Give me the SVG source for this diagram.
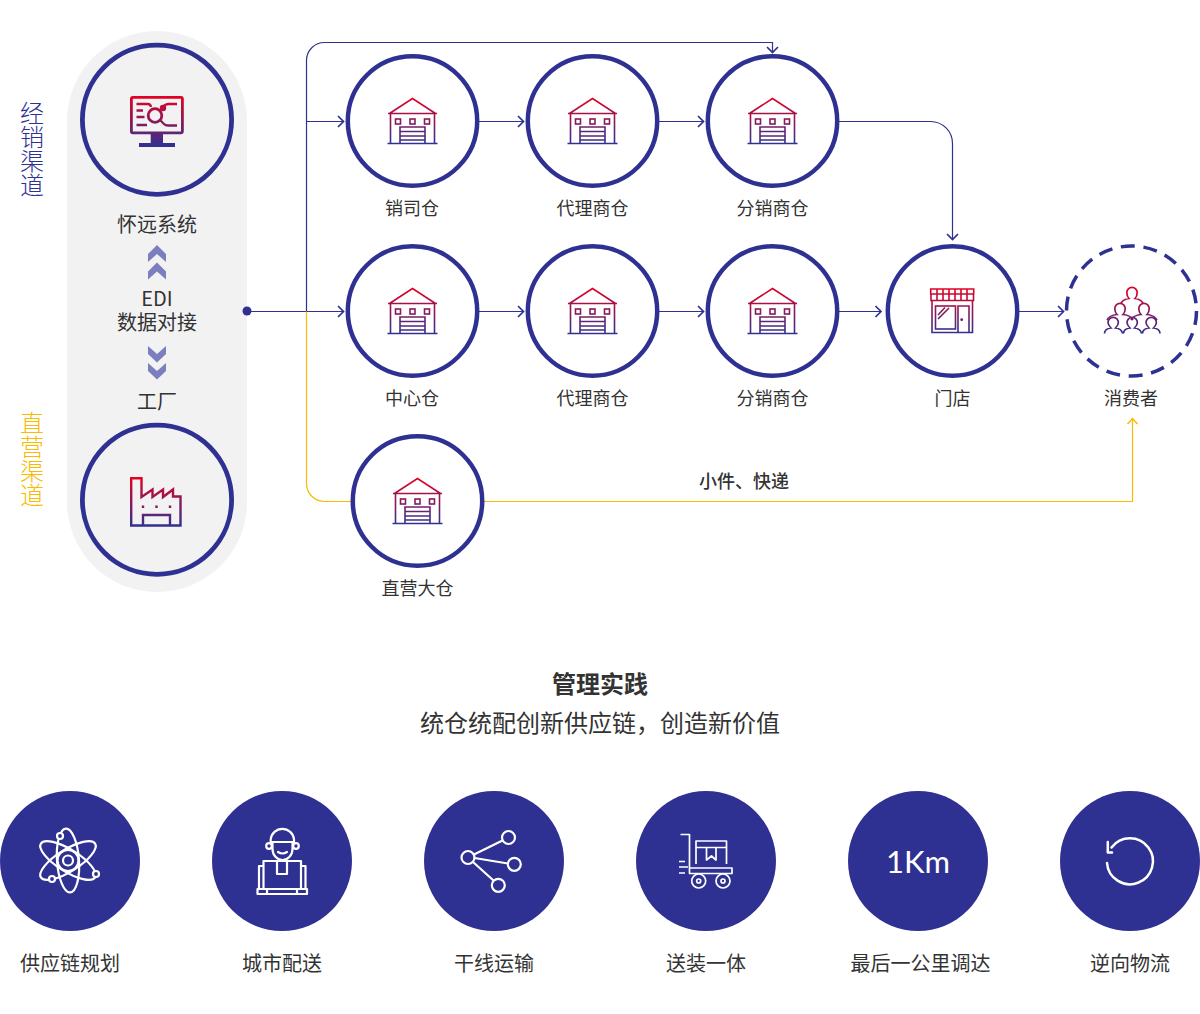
<svg xmlns="http://www.w3.org/2000/svg" xmlns:xlink="http://www.w3.org/1999/xlink" width="1200" height="1014" viewBox="0 0 1200 1014">
<style>
text{font-family:"Noto Sans CJK SC","Noto Sans",sans-serif;fill:#333;text-anchor:middle}
.lbl{font-size:18px}
.lbl2{font-size:20px}
.ring{fill:#fff;stroke:#2e3192;stroke-width:4.500}
.ringL{fill:none;stroke:#2e3192;stroke-width:4.800}
.dot{fill:#2e3192}
.ln{fill:none;stroke:#2e3192;stroke-width:1.200}
.yl{fill:none;stroke:#fbb900;stroke-width:1.200}
.head{fill:none;stroke:#2e3192;stroke-width:1.700}
.headY{fill:none;stroke:#fbb900;stroke-width:1.500}
.w{fill:none;stroke:#fff;stroke-width:2.200;stroke-linecap:round;stroke-linejoin:round}
.chev{fill:#7b7fbd}
.side{font-size:24px;font-weight:300;writing-mode:vertical-rl;text-anchor:start}
</style>
<defs>
<linearGradient id="gW" gradientUnits="userSpaceOnUse" x1="0" y1="-23" x2="0" y2="23"><stop offset="0" stop-color="#e60022"/><stop offset="1" stop-color="#2e3192"/></linearGradient>
<linearGradient id="gM" gradientUnits="userSpaceOnUse" x1="0" y1="96" x2="0" y2="147"><stop offset="0" stop-color="#e60022"/><stop offset="1" stop-color="#2e3192"/></linearGradient>
<linearGradient id="gF" gradientUnits="userSpaceOnUse" x1="0" y1="477" x2="0" y2="527"><stop offset="0" stop-color="#e60022"/><stop offset="1" stop-color="#2e3192"/></linearGradient>
<linearGradient id="gS" gradientUnits="userSpaceOnUse" x1="0" y1="288" x2="0" y2="334"><stop offset="0" stop-color="#e60022"/><stop offset="1" stop-color="#2e3192"/></linearGradient>
<linearGradient id="gP" gradientUnits="userSpaceOnUse" x1="0" y1="286" x2="0" y2="334"><stop offset="0" stop-color="#e60022"/><stop offset="1" stop-color="#2e3192"/></linearGradient>
<g id="house" fill="none" stroke="url(#gW)" stroke-width="1.600">
<path d="M-24.500 -7.500H24.500M-23 -7.500L0 -22.500L23 -7.500"/>
<path d="M-22 -7.500V22M22 -7.500V22M-25 22.500H25"/>
<path d="M-12.500 22V6H12.500V22M-12.500 10.500H12.500M-12.500 15H12.500M-12.500 19H12.500"/>
<rect x="-17" y="-2" width="5" height="5"/><rect x="-2.500" y="-2" width="5" height="5"/><rect x="12" y="-2" width="5" height="5"/>
</g>
</defs>
<rect width="1200" height="1014" fill="#fff"/>
<rect x="67" y="31" width="180" height="561" rx="90" fill="#f2f2f3"/>
<g id="side-labels">
<text class="side" x="32" y="101" style="fill:#2e3192">经销渠道</text>
<text class="side" x="32" y="411" style="fill:#fbb900">直营渠道</text>
</g>
<g id="connectors">
<circle class="dot" cx="247" cy="311" r="4.500"/>
<path class="ln" d="M247 311.500H343M306.500 311.500V60.500A18 18 0 0 1 324.500 42.500H772.500V52"/>
<path class="ln" d="M306.500 121.500H343M479 121.500H523M659 121.500H703M839 121.500H930.500A22 22 0 0 1 952.500 143.500V239M479 311.500H523M659 311.500H703M839 311.500H881M1019 311.500H1063"/>
<path class="yl" d="M306.500 311.500V483.500A18 18 0 0 0 324.500 501.500H352M484 501.500H1132.500V419"/>
<g class="head">
<path d="M338 116L343.500 121.500L338 127M518 116L523.500 121.500L518 127M698 116L703.500 121.500L698 127"/>
<path d="M338 306L343.500 311.500L338 317M518 306L523.500 311.500L518 317M698 306L703.500 311.500L698 317M875.500 306L881 311.500L875.500 317M1058 306L1063.500 311.500L1058 317"/>
<path d="M767 47L772.500 52.500L778 47M947 234L952.500 239.500L958 234"/>
</g>
<path class="headY" d="M1127.500 424L1132.500 418.500L1137.500 424"/>
</g>
<g id="node-system">
<circle class="ringL" cx="157" cy="119.700" r="74.600"/>
<g stroke="url(#gM)" fill="none" stroke-width="2.800">
<rect x="131.400" y="97.400" width="51" height="35.400" rx="1.500"/>
<path d="M136.500 104H148Q150.500 104 151 107M177 104H169Q165 104 163 107M136.500 110.500H143M136.500 117H144.500M136.500 125H147M160 120L164 124Q165.500 125.500 168 125.500H177" stroke-width="2.300"/>
<circle cx="155" cy="115.500" r="6.800" stroke-width="2.800"/>
</g>
<circle cx="163" cy="108" r="3.200" fill="url(#gM)"/>
<path d="M150.700 134H163V143H175V147H139V143H150.700Z" fill="url(#gM)"/>
<text class="lbl2" x="157" y="232">怀远系统</text>
</g>
<g id="edi">
<path class="chev" d="M157 245L166 254V262L157 254L148 262V254Z"/>
<path class="chev" d="M157 262.500L166 271.500V279.500L157 271.500L148 279.500V271.500Z"/>
<text class="lbl2"><tspan x="157" y="306">EDI</tspan><tspan x="157" y="330">数据对接</tspan></text>
<path class="chev" d="M148 346L157 354L166 346V354L157 362.500L148 354Z"/>
<path class="chev" d="M148 363L157 371L166 363V371L157 379.500L148 371Z"/>
</g>
<g id="node-factory">
<text class="lbl2" x="157" y="408.500">工厂</text>
<circle class="ringL" cx="157" cy="499.700" r="74.600"/>
<path d="M131.200 478.200H141.500V497L152.500 489.500V497L163 489.500V497L173 489.500V496.500H180.500V525.500H131.200Z" fill="none" stroke="url(#gF)" stroke-width="2.400"/>
<path d="M143 525V515H170V525" fill="none" stroke="url(#gF)" stroke-width="2.400"/>
<path d="M143 505.500v2.500M156.500 505.500v2.500M170 505.500v2.500" stroke="url(#gF)" stroke-width="2.400"/>
</g>
<g id="node-xiaosi"><circle class="ring" cx="412.500" cy="121" r="64.700"/><use href="#house" x="412.500" y="121"/><text class="lbl" x="412" y="215">销司仓</text></g>
<g id="node-agent1"><circle class="ring" cx="592.500" cy="121" r="64.700"/><use href="#house" x="592.500" y="121"/><text class="lbl" x="592.500" y="215">代理商仓</text></g>
<g id="node-dist1"><circle class="ring" cx="772.500" cy="121" r="64.700"/><use href="#house" x="772.500" y="121"/><text class="lbl" x="772.500" y="215">分销商仓</text></g>
<g id="node-center"><circle class="ring" cx="412.500" cy="311" r="64.700"/><use href="#house" x="412.500" y="311"/><text class="lbl" x="412" y="405">中心仓</text></g>
<g id="node-agent2"><circle class="ring" cx="592.500" cy="311" r="64.700"/><use href="#house" x="592.500" y="311"/><text class="lbl" x="592.500" y="405">代理商仓</text></g>
<g id="node-dist2"><circle class="ring" cx="772.500" cy="311" r="64.700"/><use href="#house" x="772.500" y="311"/><text class="lbl" x="772.500" y="405">分销商仓</text></g>
<g id="node-store"><circle class="ring" cx="952.500" cy="311" r="64.700"/>
<g fill="none" stroke="url(#gS)" stroke-width="1.600">
<path d="M930.700 289H973.700V294H930.700ZM931 294V300.500H973.500V294M937 289V300.500M943 289V300.500M949 289V300.500M955 289V300.500M961 289V300.500M967 289V300.500"/>
<path d="M932 301V332.500H972.500V301"/>
<rect x="935.500" y="306" width="20" height="23"/>
<path d="M958 332.500V306H969V332.500M938 315L945 307.500M938 319L949 308"/>
</g>
<circle cx="961.700" cy="319.700" r="1.400" fill="url(#gS)"/>
<text class="lbl" x="952.500" y="405">门店</text></g>
<g id="node-consumer"><circle cx="1131.500" cy="311" r="65" fill="#fff" stroke="#2e3192" stroke-width="3.500" stroke-dasharray="14 8.700"/>
<g fill="none" stroke-width="1.700" stroke="url(#gP)">
<path d="M1121 303C1123 299.500 1126 299 1129 298.500C1127.500 297 1126.800 295 1126.800 292.500A5.200 5.200 0 0 1 1137.200 292.500C1137.200 295 1136.500 297 1135 298.500C1138 299 1141 299.500 1143 303"/>
<path d="M1107 320C1109 316 1112 315 1117 314.500C1115.500 313 1114.800 311 1114.800 308.500A5.200 5.200 0 0 1 1125.200 308.500C1125.200 311 1124.500 313 1123 314.500C1128 315 1131 316 1133 320"/>
<path d="M1131 320C1133 316 1136 315 1141 314.500C1139.500 313 1138.800 311 1138.800 308.500A5.200 5.200 0 0 1 1149.200 308.500C1149.200 311 1148.500 313 1147 314.500C1152 315 1155 316 1157 320"/>
<path d="M1104.500 333.500C1104.500 330 1107 328.500 1111 328C1109.500 326.500 1108 325 1108 322.500A5.200 5.200 0 0 1 1118.400 322.500C1118.400 325 1117 326.500 1115.500 328C1119.500 328.500 1122 330 1122.500 333.500"/>
<path d="M1123.500 333.500C1123.500 330 1126 328.500 1130 328C1128.500 326.500 1127 325 1127 322.500A5.200 5.200 0 0 1 1137.400 322.500C1137.400 325 1136 326.500 1134.500 328C1138.500 328.500 1141 330 1141.500 333.500"/>
<path d="M1142.500 333.500C1142.500 330 1145 328.500 1149 328C1147.500 326.500 1146 325 1146 322.500A5.200 5.200 0 0 1 1156.400 322.500C1156.400 325 1155 326.500 1153.500 328C1157.500 328.500 1160 330 1160 333.500"/>
</g>
<text class="lbl" x="1131" y="405">消费者</text></g>
<g id="node-direct"><circle class="ring" cx="417.500" cy="501" r="64.700"/><use href="#house" x="417.500" y="501"/><text class="lbl" x="417.500" y="595">直营大仓</text></g>
<text x="744" y="488" style="font-size:18px;font-weight:500">小件、快递</text>
<g id="heading">
<text x="600" y="693" style="font-size:24px;font-weight:700">管理实践</text>
<text x="600" y="732" style="font-size:24px">统仓统配创新供应链，创造新价值</text>
</g>
<g id="node-plan"><circle class="dot" cx="70" cy="861" r="70"/>
<g class="w">
<circle cx="68" cy="860.500" r="5"/><circle cx="68" cy="860.500" r="10.500"/>
<ellipse cx="68" cy="860.500" rx="11" ry="32" transform="rotate(-4 68 860.500)"/>
<ellipse cx="68" cy="860.500" rx="32" ry="11" transform="rotate(32 68 860.500)"/>
<ellipse cx="68" cy="860.500" rx="32" ry="11" transform="rotate(-32 68 860.500)"/>
<circle cx="60" cy="836" r="3" fill="#2e3192"/><circle cx="96" cy="874" r="3" fill="#2e3192"/><circle cx="52" cy="879" r="3" fill="#2e3192"/>
</g>
<text class="lbl2" x="70" y="971">供应链规划</text></g>
<g id="node-city"><circle class="dot" cx="282" cy="861" r="70"/>
<g class="w">
<path d="M270.700 842V839.500A11.700 11.700 0 0 1 294 839.500V842H270.700Z"/>
<path d="M272.500 842V849C272.500 855 277 860 282.500 860C288 860 292.500 855 292.500 849V842"/>
<circle cx="269" cy="846" r="2.800"/><circle cx="296" cy="846" r="2.800"/>
<path d="M278 852Q282.500 855 287 852"/>
<path d="M263.500 861H301V889H263.500ZM277 861V874H287V861M263.500 866H259V889M301 866H305.500V889M257.500 889H307V894H257.500ZM267 889V893M297 889V893"/>
</g>
<text class="lbl2" x="282" y="971">城市配送</text></g>
<g id="node-line"><circle class="dot" cx="494" cy="861" r="70"/>
<g class="w">
<circle cx="468" cy="857.500" r="6.500"/><circle cx="508.500" cy="837.500" r="6.500"/><circle cx="514.300" cy="864.300" r="6.500"/><circle cx="498.300" cy="885.300" r="6.500"/>
<path d="M474 854.500L502.500 840.500M474.500 858L508 863.500M473 862L493.500 880.500"/>
</g>
<text class="lbl2" x="494" y="971">干线运输</text></g>
<g id="node-assemble"><circle class="dot" cx="706" cy="861" r="70"/>
<g class="w" style="stroke-width:1.700;stroke-linecap:butt">
<path d="M680.500 834.500H689.500V868M689.500 868H732V873.500H689.500ZM696 864V841H726.500V864M696 847.500H726.500M706.500 847.500V860L711.500 856L716 860V847.500M679 861.500H685M679 867H688M679 873H685"/>
<circle cx="698.700" cy="881" r="7"/><circle cx="698.700" cy="881" r="2"/><circle cx="723" cy="881" r="7"/><circle cx="723" cy="881" r="2"/>
</g>
<text class="lbl2" x="706" y="971">送装一体</text></g>
<g id="node-lastmile"><circle class="dot" cx="918" cy="861" r="70"/>
<text x="918" y="873" style="font-family:'Lato',sans-serif;font-size:31px;fill:#fff">1Km</text>
<text class="lbl2" x="920.500" y="971">最后一公里调达</text></g>
<g id="node-reverse"><circle class="dot" cx="1130" cy="861" r="70"/>
<path class="w" style="stroke-width:2.500" d="M1107 863A23 23 0 1 0 1111.500 847.500M1107.800 842V852.500H1112"/>
<text class="lbl2" x="1130" y="971">逆向物流</text></g>
</svg>
